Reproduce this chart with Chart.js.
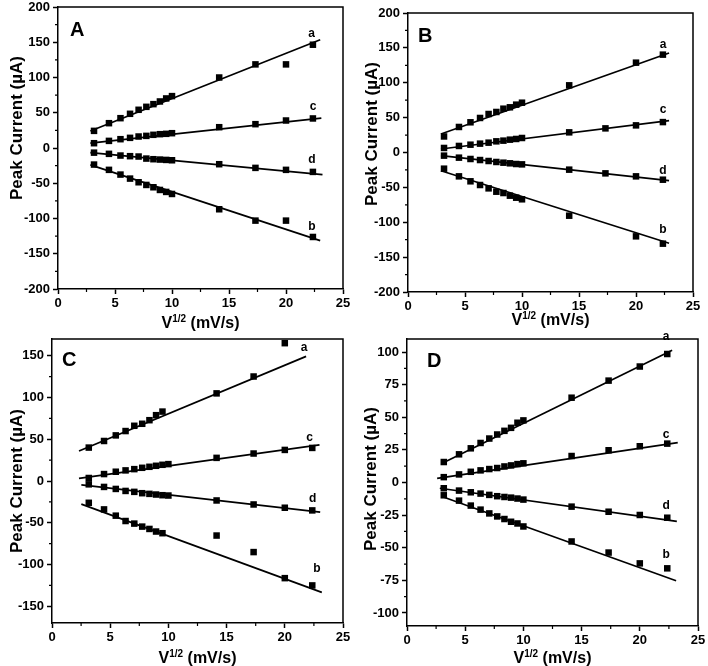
<!DOCTYPE html>
<html><head><meta charset="utf-8">
<script src="https://cdn.jsdelivr.net/npm/chart.js@4/dist/chart.umd.min.js"></script>
<style>
html,body{margin:0;padding:0;background:#fff;width:708px;height:666px;overflow:hidden}
canvas{position:absolute}
</style></head><body>
<canvas id="cA" width="354" height="333" style="left:0;top:0"></canvas>
<canvas id="cB" width="354" height="333" style="left:354px;top:0"></canvas>
<canvas id="cC" width="354" height="333" style="left:0;top:333px"></canvas>
<canvas id="cD" width="354" height="333" style="left:354px;top:333px"></canvas>
<script>
// ---- data ----
const xRoot = [3.16,4.47,5.48,6.32,7.07,7.75,8.37,8.94,9.49,10,14.14,17.32,20,22.36];
const seriesNames = ['a','b','c','d'];
const xTicks = [0,5,10,15,20,25];
const yTicksAB = [-200,-150,-100,-50,0,50,100,150,200];
const yTicksC = [-150,-100,-50,0,50,100,150];
const yTicksD = [-100,-75,-50,-25,0,25,50,75,100];

const A_a = [24.3,35.2,42.3,48.5,54.2,58.4,62.2,66,70.3,73.6,100,118.6,118.6,146.5];
const A_b = [-23.5,-31,-37.7,-43.4,-48.6,-52.4,-55.7,-59.5,-62.3,-65.2,-86.9,-103,-103,-126.2];
const A_c = [6.8,10.1,12.5,14.4,16.3,17.2,18.7,19.6,20.1,21,29.5,33.8,39,41.9];
const A_d = [-6.6,-8.3,-10.7,-11.6,-12.1,-15,-15.9,-16.4,-16.9,-17.4,-23,-28.2,-31,-33.9];
const A_fit = {a:[[2.84,24],[23.0,153.6]], b:[[2.84,-24],[23.0,-131.4]], c:[[2.84,6.8],[23.1,42.3]], d:[[2.84,-6.6],[23.2,-37.7]]};
const A_lab = {a:[22.25,161.6], b:[22.28,-111.6], c:[22.37,58.9], d:[22.28,-16.9]};

const B_a = [23,36.6,43.3,49.5,55.2,58.1,62.8,64.8,68.6,71.4,96.3,null,128.8,140.3];
const B_b = [-23.2,-34.2,-41.3,-46.6,-51.4,-56.2,-58.1,-61.9,-64.8,-67.1,-90.6,null,-120.2,-130.7];
const B_c = [6.5,9.4,11.2,12.7,14.1,16,17,18.4,19.4,20.8,28.9,34.6,38.9,43.6];
const B_d = [-4.5,-7.4,-9.3,-10.8,-12.2,-13.6,-14.6,-15.5,-16.5,-17,-24.6,-29.9,-34.2,-39];
const B_fit = {a:[[2.89,26.5],[22.9,142.7]], b:[[2.89,-26.1],[22.9,-130.2]], c:[[2.89,5],[22.9,45.6]], d:[[2.89,-4.5],[22.9,-40.4]]};
const B_lab = {a:[22.37,154.6], b:[22.37,-110.6], c:[22.37,61.4], d:[22.37,-25.6]};

const C_a = [40,47.9,54.6,59.8,66.1,68.5,72.8,78.8,83.1,null,104.9,125.1,165,null];
const C_b = [-26.1,-34,-41.5,-47.9,-51,-54.6,-57.4,-60.5,-62.5,null,-65.3,-85.1,-116.3,-125];
const C_c = [3.6,8.3,11.1,12.7,14.2,15.8,17,18.2,19.4,20.2,27.7,32.9,37.2,39.6];
const C_d = [-4,-7.1,-9.5,-11.9,-13,-14.6,-15.4,-16.2,-17,-17.4,-23.3,-28.1,-32,-35.2];
const C_fit = {a:[[2.32,36],[21.83,149.2]], b:[[2.52,-27.7],[23.18,-133.3]], c:[[2.32,3.2],[22.98,43.2]], d:[[2.52,-4.7],[23.04,-37.2]]};
const C_lab = {a:[21.66,159.1], b:[22.75,-105.2], c:[22.12,51.9], d:[22.4,-21]};

const D_a = [15.7,21.6,26.2,30.3,33.7,36.8,39.6,41.9,45.8,47.6,65,78.1,88.9,98.5];
const D_b = [-9.8,-13.9,-17.7,-20.8,-23.7,-26,-28,-30.1,-31.4,-33.7,-45.2,-53.7,-62,-65.8];
const D_c = [4.1,6.2,8.2,9.3,10.3,11.1,12.3,13.1,14.1,14.7,20.3,24.7,27.8,29.8];
const D_d = [-4.4,-6.2,-7.5,-8.5,-9.5,-10.5,-11.1,-11.6,-12.3,-13.1,-18.5,-22.4,-24.9,-27];
const D_fit = {a:[[2.94,14.4],[22.78,101.3]], b:[[2.94,-10.5],[23.12,-75.3]], c:[[2.59,3.1],[23.26,30.6]], d:[[2.82,-4.4],[23.18,-29.8]]};
const D_lab = {a:[22.26,112.1], b:[22.26,-55.5], c:[22.26,37], d:[22.26,-17.7]};

const yTitle = 'Peak Current (µA)';
const xTitleMain = 'V', xTitleSup = '1/2', xTitleRest = ' (mV/s)';

// ---- layout ----
const FONT = "'Liberation Sans', Arial, sans-serif";
const panels = [
  {id:'cA', letter:'A', ys:{a:A_a,b:A_b,c:A_c,d:A_d}, fit:A_fit, lab:A_lab, yMin:-200, yMax:200, yTicks:yTicksAB,
   area:{l:58,t:7,r:343,b:289}, letterPos:[12,29], xTitleBase:328, yTitleX:17, yTitleY:128},
  {id:'cB', letter:'B', ys:{a:B_a,b:B_b,c:B_c,d:B_d}, fit:B_fit, lab:B_lab, yMin:-200, yMax:200, yTicks:yTicksAB,
   area:{l:54,t:13,r:339,b:292}, letterPos:[10,29], xTitleBase:325, yTitleX:18, yTitleY:134},
  {id:'cC', letter:'C', ys:{a:C_a,b:C_b,c:C_c,d:C_d}, fit:C_fit, lab:C_lab, yMin:-170, yMax:170, yTicks:yTicksC,
   area:{l:52,t:6,r:343,b:290}, letterPos:[10,27], xTitleBase:330, yTitleX:17, yTitleY:148},
  {id:'cD', letter:'D', ys:{a:D_a,b:D_b,c:D_c,d:D_d}, fit:D_fit, lab:D_lab, yMin:-110, yMax:110, yTicks:yTicksD,
   area:{l:53,t:6,r:344,b:293}, letterPos:[20,28], xTitleBase:330, yTitleX:17, yTitleY:146}
];

function midpoints(arr){const m=[];for(let i=0;i<arr.length-1;i++)m.push((arr[i]+arr[i+1])/2);return m;}

const decor = {
  id:'decor',
  afterDraw(chart){
    const p = chart.options.plugins.decor;
    const ctx = chart.ctx, ca = chart.chartArea;
    const xs = chart.scales.x, ys = chart.scales.y;
    ctx.save();
    ctx.strokeStyle = '#000'; ctx.lineWidth = 1.5;
    ctx.beginPath();
    ctx.moveTo(ca.left, ca.top); ctx.lineTo(ca.right, ca.top); ctx.lineTo(ca.right, ca.bottom);
    ctx.stroke();
    // minor ticks
    ctx.lineWidth = 1.2;
    ctx.beginPath();
    midpoints(xTicks).forEach(v=>{const px=xs.getPixelForValue(v);ctx.moveTo(px,ca.bottom);ctx.lineTo(px,ca.bottom+3);});
    midpoints(p.yTicks).forEach(v=>{const py=ys.getPixelForValue(v);ctx.moveTo(ca.left,py);ctx.lineTo(ca.left-3,py);});
    ctx.stroke();
    ctx.fillStyle = '#000';
    // series labels
    ctx.font = 'bold 12px ' + FONT;
    ctx.textAlign = 'center'; ctx.textBaseline = 'middle';
    seriesNames.forEach(n=>{const q=p.lab[n];ctx.fillText(n, xs.getPixelForValue(q[0]), ys.getPixelForValue(q[1]));});
    // panel letter
    ctx.font = 'bold 20px ' + FONT;
    ctx.textAlign = 'left'; ctx.textBaseline = 'alphabetic';
    ctx.fillText(p.letter, ca.left + p.letterPos[0], ca.top + p.letterPos[1]);
    // x title with superscript
    const big = 'bold 16px ' + FONT, small = 'bold 10px ' + FONT;
    ctx.font = big; const w1 = ctx.measureText(xTitleMain).width, w3 = ctx.measureText(xTitleRest).width;
    ctx.font = small; const w2 = ctx.measureText(xTitleSup).width;
    let x0 = (ca.left + ca.right)/2 - (w1+w2+w3)/2;
    const base = p.xTitleBase;
    ctx.font = big; ctx.fillText(xTitleMain, x0, base);
    ctx.font = small; ctx.fillText(xTitleSup, x0 + w1, base - 6);
    ctx.font = big; ctx.fillText(xTitleRest, x0 + w1 + w2, base);
    // y title
    ctx.translate(p.yTitleX, p.yTitleY);
    ctx.rotate(-Math.PI/2);
    ctx.font = 'bold 17px ' + FONT;
    ctx.textAlign = 'center'; ctx.textBaseline = 'middle';
    ctx.fillText(yTitle, 0, 0);
    ctx.restore();
  }
};

panels.forEach(P=>{
  const cv = document.getElementById(P.id);
  const W = cv.width, H = cv.height;
  const datasets = [];
  seriesNames.forEach(n=>{
    datasets.push({label:n, data: xRoot.map((x,i)=>({x:x, y:P.ys[n][i]})).filter(d=>d.y!==null),
      showLine:false, pointStyle:'rect', pointRadius:4.6, pointHoverRadius:4.6,
      backgroundColor:'#000', borderColor:'#000', borderWidth:0});
    datasets.push({label:n+' fit', data: P.fit[n].map(q=>({x:q[0], y:q[1]})),
      showLine:true, pointRadius:0, borderColor:'#000', borderWidth:1.7, fill:false});
  });
  const fixPad = s=>{s.paddingLeft=0;s.paddingRight=0;s.paddingTop=0;s.paddingBottom=0;};
  new Chart(cv, {
    type:'scatter',
    data:{datasets},
    options:{
      responsive:false, animation:false, devicePixelRatio:1,
      layout:{padding:{left:0, bottom:0, top:P.area.t, right:W-P.area.r}},
      plugins:{legend:{display:false}, tooltip:{enabled:false}, decor:{letter:P.letter, lab:P.lab, yTicks:P.yTicks,
        letterPos:P.letterPos, xTitleBase:P.xTitleBase, yTitleX:P.yTitleX, yTitleY:P.yTitleY}},
      scales:{
        x:{type:'linear', min:0, max:25,
          afterBuildTicks:s=>{s.ticks = xTicks.map(v=>({value:v}));},
          afterFit:s=>{s.height = H - P.area.b; fixPad(s);},
          grid:{drawOnChartArea:false, drawTicks:true, tickLength:5, tickColor:'#000', tickWidth:1.5},
          border:{display:true, color:'#000', width:1.5},
          ticks:{color:'#000', padding:2, maxRotation:0, autoSkip:false, font:{family:FONT, weight:'bold', size:13}}},
        y:{type:'linear', min:P.yMin, max:P.yMax,
          afterBuildTicks:s=>{s.ticks = P.yTicks.map(v=>({value:v}));},
          afterFit:s=>{s.width = P.area.l; fixPad(s);},
          grid:{drawOnChartArea:false, drawTicks:true, tickLength:5, tickColor:'#000', tickWidth:1.5},
          border:{display:true, color:'#000', width:1.5},
          ticks:{color:'#000', padding:3, autoSkip:false, font:{family:FONT, weight:'bold', size:13}}}
      }
    },
    plugins:[decor]
  });
});
</script>
</body></html>
